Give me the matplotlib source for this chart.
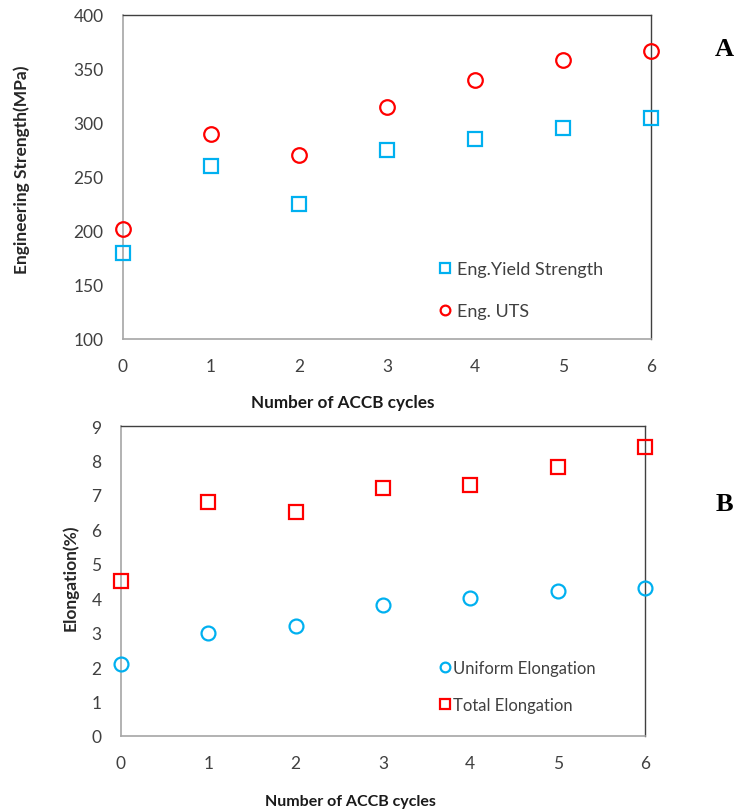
import matplotlib
matplotlib.use("Agg")
import matplotlib.pyplot as plt
from matplotlib.lines import Line2D

plt.rcParams['font.family'] = ['Lato', 'DejaVu Sans']

cycles = [0, 1, 2, 3, 4, 5, 6]
yield_strength = [180, 260, 225, 275, 285, 295, 305]
uts = [202, 290, 270, 315, 340, 358, 367]
uniform_elong = [2.1, 3.0, 3.2, 3.8, 4.0, 4.2, 4.3]
total_elong = [4.5, 6.8, 6.5, 7.2, 7.3, 7.8, 8.4]

BLUE = '#00B0F0'
RED = '#FF0000'
TICK = '#404040'

W, H = 736, 812
fig = plt.figure(figsize=(W / 100, H / 100), dpi=100)


def px_axes(l, t, r, b):
    return fig.add_axes([l / W, 1 - b / H, (r - l) / W, (b - t) / H])


def style(ax):
    for s in ['left', 'bottom']:
        ax.spines[s].set_color('#A6A6A6')
        ax.spines[s].set_linewidth(1.2)
    for s in ['top', 'right']:
        ax.spines[s].set_color('#404040')
        ax.spines[s].set_linewidth(1.0)
    ax.tick_params(length=0, labelsize=12.5, colors=TICK, pad=14)
    ax.set_xlim(0, 6)
    ax.set_xticks(cycles)


# Top panel
ax1 = px_axes(123, 16, 651, 340)
style(ax1)
ax1.set_ylim(100, 400)
ax1.set_yticks(range(100, 401, 50))
ax1.plot(cycles, yield_strength, ls='none', marker='s', ms=10, mfc='none',
         mec=BLUE, mew=1.6, clip_on=False, zorder=5)
ax1.plot(cycles, uts, ls='none', marker='o', ms=10.5, mfc='none',
         mec=RED, mew=1.6, clip_on=False, zorder=5)
h1 = [Line2D([], [], ls='none', marker='s', ms=7, mfc='none', mec=BLUE, mew=1.6),
      Line2D([], [], ls='none', marker='o', ms=7, mfc='none', mec=RED, mew=1.6)]
ax1.legend(h1, ['Eng.Yield Strength', 'Eng. UTS'], loc='center left',
           bbox_to_anchor=(0.58, 0.15), frameon=False, fontsize=13,
           handlelength=0.8, handletextpad=0.25, labelspacing=1.45,
           labelcolor=TICK, borderpad=0)
ax1.set_ylabel('Engineering Strength(MPa)', fontsize=12.5, fontweight='bold',
               color='#262626')
ax1.yaxis.set_label_coords(-0.176, 0.527)
fig.text(343 / W, 1 - 403 / H, 'Number of ACCB cycles', ha='center', va='center',
         fontsize=12.3, fontweight='bold', color='#1a1a1a')
fig.text(724 / W, 1 - 50 / H, 'A', ha='center', va='center', fontsize=19,
         fontweight='bold', family='Liberation Serif')

# Bottom panel
ax2 = px_axes(121, 427, 645, 737)
style(ax2)
ax2.set_ylim(0, 9)
ax2.set_yticks(range(0, 10))
ax2.plot(cycles, uniform_elong, ls='none', marker='o', ms=10, mfc='none',
         mec=BLUE, mew=1.6, clip_on=False, zorder=5)
ax2.plot(cycles, total_elong, ls='none', marker='s', ms=10, mfc='none',
         mec=RED, mew=1.6, clip_on=False, zorder=5)
h2 = [Line2D([], [], ls='none', marker='o', ms=7, mfc='none', mec=BLUE, mew=1.6),
      Line2D([], [], ls='none', marker='s', ms=7, mfc='none', mec=RED, mew=1.6)]
ax2.legend(h2, ['Uniform Elongation', 'Total Elongation'], loc='center left',
           bbox_to_anchor=(0.59, 0.16), frameon=False, fontsize=12,
           handlelength=0.8, handletextpad=0.1, labelspacing=1.25,
           labelcolor=TICK, borderpad=0)
ax2.set_ylabel('Elongation(%)', fontsize=12.5, fontweight='bold', color='#262626')
ax2.yaxis.set_label_coords(-0.081, 0.513)
fig.text(350 / W, 1 - 802 / H, 'Number of ACCB cycles', ha='center', va='center',
         fontsize=11.5, fontweight='bold', color='#1a1a1a')
fig.text(724 / W, 1 - 505 / H, 'B', ha='center', va='center', fontsize=19,
         fontweight='bold', family='Liberation Serif')

fig.savefig('out.png', dpi=100)
